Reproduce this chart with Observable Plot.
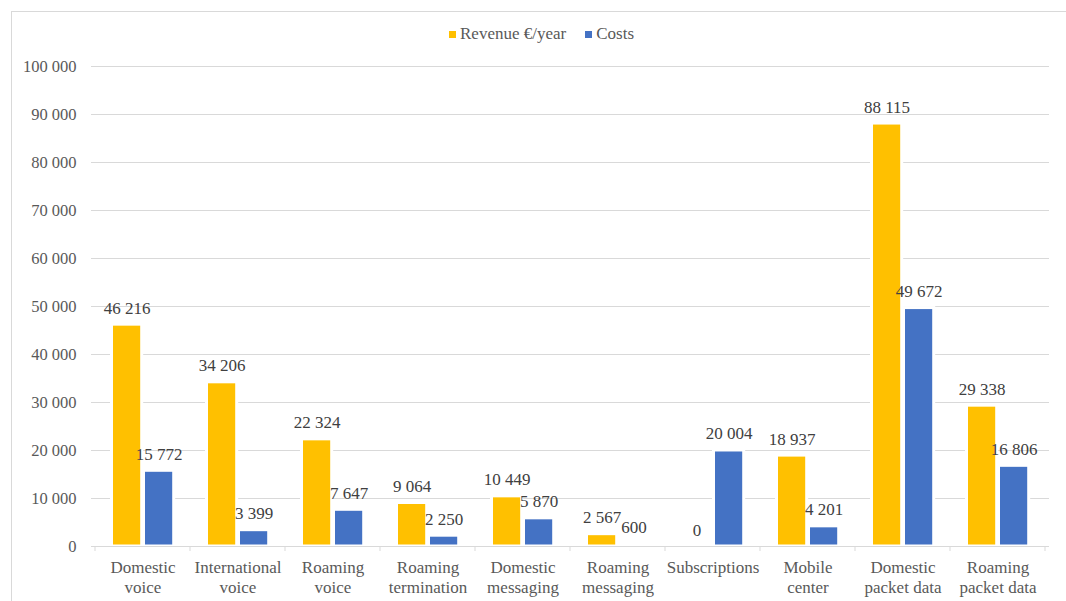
<!DOCTYPE html>
<html>
<head>
<meta charset="utf-8">
<script src="https://cdn.jsdelivr.net/npm/d3@7"></script>
<script src="https://cdn.jsdelivr.net/npm/@observablehq/plot@0.6"></script>
<style>
  html, body { margin: 0; padding: 0; background: #fff; overflow: hidden; }
  #wrap { position: relative; width: 1066px; height: 601px; font-family: "Liberation Serif", "Times New Roman", serif; }
  #frame { position: absolute; left: 11px; top: 11px; width: 1200px; height: 800px; border: 1px solid #d9d9d9; box-sizing: border-box; }
  #legend { position: absolute; left: 449px; top: 24px; height: 20px; display: flex; align-items: center; font-size: 17px; color: #595959; white-space: nowrap; }
  #legend .item { display: flex; align-items: center; margin-right: 19px; }
  #legend .sw { width: 7px; height: 7px; margin-right: 4px; }
  #chart { position: absolute; left: 0; top: 0; }
  #chart svg text { font-family: "Liberation Serif", serif; }
</style>
</head>
<body>
<div id="wrap">
  <div id="frame"></div>
  <div id="chart"></div>
  <div id="legend"></div>
</div>
<script>
// Services, two lines per axis label
const categories = [
  "Domestic\nvoice",
  "International\nvoice",
  "Roaming\nvoice",
  "Roaming\ntermination",
  "Domestic\nmessaging",
  "Roaming\nmessaging",
  "Subscriptions",
  "Mobile\ncenter",
  "Domestic\npacket data",
  "Roaming\npacket data"
];
const revenue = [46216, 34206, 22324, 9064, 10449, 2567, 0, 18937, 88115, 29338];
const costs = [15772, 3399, 7647, 2250, 5870, 600, 20004, 4201, 49672, 16806];
const seriesNames = ["Revenue €/year", "Costs"];
const seriesColors = ["#FFC000", "#4472C4"];
const yTicks = [0, 10000, 20000, 30000, 40000, 50000, 60000, 70000, 80000, 90000, 100000];

const revenueRows = categories.map((c, i) => ({category: c, series: seriesNames[0], value: revenue[i]}));
const costRows = categories.map((c, i) => ({category: c, series: seriesNames[1], value: costs[i]}));

const fmt = d3.formatLocale({decimal: ".", thousands: " ", grouping: [3], currency: ["", ""]}).format(",d");

// short ticks marking the boundaries between service groups
function groupTicks(index, scales) {
  const x = scales.x, y0 = scales.y(0);
  const edges = categories.map(c => x(c)).concat([x(categories[categories.length - 1]) + x.bandwidth()]);
  const g = d3.create("svg:g").attr("stroke", "#d9d9d9");
  g.selectAll("line").data(edges).join("line")
    .attr("x1", d => d).attr("x2", d => d)
    .attr("y1", y0).attr("y2", y0 + 5);
  return g.node();
}

const barStyle = {stroke: "white", strokeWidth: 3};

const chart = Plot.plot({
  width: 1066,
  height: 601,
  marginLeft: 91,
  marginRight: 17,
  marginTop: 66,
  marginBottom: 55,
  style: {fontFamily: "Liberation Serif", fontSize: "17px", color: "#595959", background: "transparent", overflow: "visible"},
  x: {domain: categories, padding: 0, label: null, axis: null},
  y: {domain: [0, 100000], label: null, axis: null},
  marks: [
    Plot.gridY(yTicks, {stroke: "#d9d9d9", strokeOpacity: 1}),
    Plot.barY(revenueRows, {x: "category", y: "value", fill: seriesColors[0], insetLeft: 16.5, insetRight: 48.3, ...barStyle}),
    Plot.barY(costRows, {x: "category", y: "value", fill: seriesColors[1], insetLeft: 48.5, insetRight: 16.3, ...barStyle}),
    Plot.ruleY([0], {stroke: "#d9d9d9"}),
    groupTicks,
    Plot.axisY(yTicks, {tickSize: 0, tickPadding: 15, tickFormat: fmt, fill: "#595959", fontSize: 16.5}),
    Plot.axisX({tickSize: 0, tickPadding: 13, fill: "#595959", fontSize: 17, lineHeight: 1.15}),
    Plot.text(revenueRows, {x: "category", y: "value", text: d => fmt(d.value), dx: -16, dy: -11, lineAnchor: "bottom", fill: "#404040", fontSize: 17}),
    Plot.text(costRows, {x: "category", y: "value", text: d => fmt(d.value), dx: 16, dy: -11, lineAnchor: "bottom", fill: "#404040", fontSize: 17})
  ]
});
document.getElementById("chart").appendChild(chart);

// legend
const legend = d3.select("#legend");
seriesNames.forEach((name, i) => {
  const item = legend.append("div").attr("class", "item");
  item.append("div").attr("class", "sw").style("background", seriesColors[i]);
  item.append("span").text(name);
});
</script>
</body>
</html>
